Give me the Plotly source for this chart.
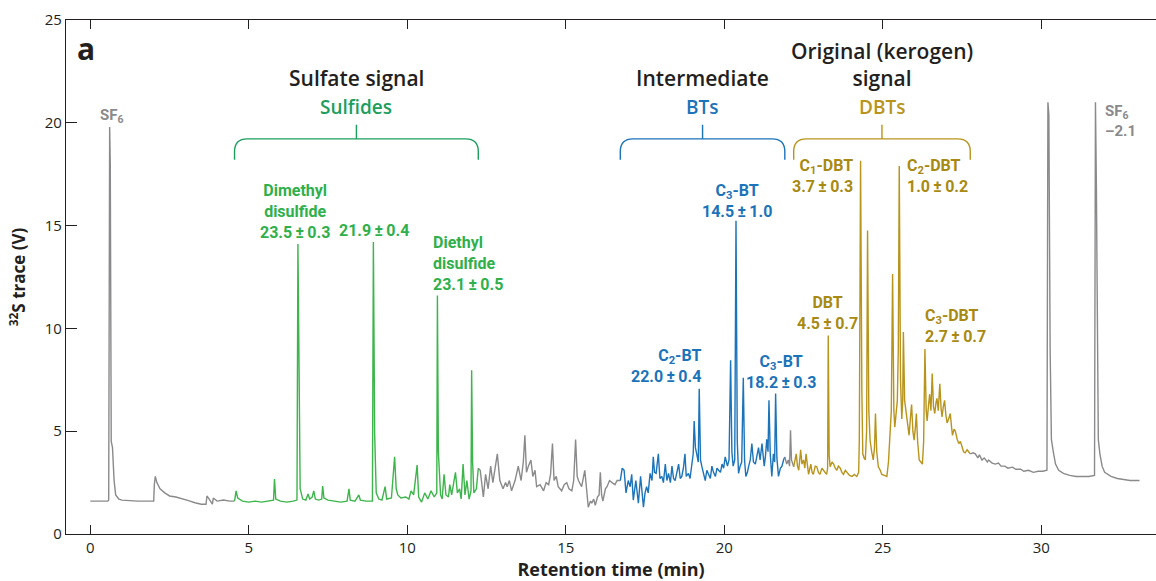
import plotly.graph_objects as go

# ---------------- data (retention time in min, 32S trace in V) ----------------
gray1_t = [0.0, 0.55, 0.58, 0.61, 0.63, 0.66, 0.70, 0.75, 0.80, 0.90, 1.0, 1.5, 2.0, 2.02, 2.05, 2.1, 2.2,
           2.35, 2.5, 2.7, 2.9, 3.1, 3.3, 3.5, 3.65, 3.68, 3.75, 3.85, 3.88, 4.0, 4.2, 4.4, 4.55]
gray1_v = [1.6, 1.6, 1.65, 19.8, 18.0, 4.5, 4.2, 2.6, 1.9, 1.7, 1.65, 1.6, 1.6, 2.4, 2.8, 2.5, 2.2,
           2.0, 1.85, 1.8, 1.72, 1.62, 1.52, 1.45, 1.45, 1.85, 1.7, 1.45, 1.75, 1.6, 1.65, 1.6, 1.6]

green_t = [4.55, 4.6, 4.65, 4.8, 5.0, 5.2, 5.4, 5.6, 5.78, 5.81, 5.85, 6.0, 6.2, 6.4, 6.52, 6.55, 6.58,
           6.62, 6.7, 6.8, 6.87, 6.92, 7.0, 7.05, 7.1, 7.2, 7.3, 7.33, 7.37, 7.5, 7.7, 7.9, 8.1, 8.16,
           8.2, 8.35, 8.47, 8.52, 8.7, 8.9, 8.93, 8.97, 9.02, 9.1, 9.2, 9.3, 9.35, 9.5, 9.6, 9.65, 9.7,
           9.8, 9.95, 10.05, 10.12, 10.2, 10.31, 10.36, 10.45, 10.55, 10.65, 10.75, 10.85, 10.93,
           10.95, 10.98, 11.05, 11.1, 11.16, 11.22, 11.3, 11.34, 11.4, 11.45, 11.52, 11.58, 11.65,
           11.7, 11.76, 11.82, 11.88, 11.95, 12.01, 12.03, 12.06, 12.1, 12.18, 12.24]
green_v = [1.6, 2.1, 1.75, 1.6, 1.55, 1.6, 1.55, 1.6, 1.65, 2.67, 1.7, 1.6, 1.55, 1.6, 1.65, 14.1, 7.6,
           2.2, 1.7, 1.65, 1.95, 1.7, 1.8, 2.1, 1.7, 1.65, 1.7, 2.33, 1.75, 1.65, 1.6, 1.55, 1.6, 2.2,
           1.65, 1.6, 1.9, 1.65, 1.6, 1.6, 14.2, 4.9, 2.0, 1.7, 1.65, 2.3, 1.7, 1.75, 3.75, 2.2, 1.9,
           1.75, 1.8, 1.7, 2.1, 1.9, 3.35, 1.8, 1.55, 2.0, 1.7, 2.1, 1.8, 2.0,
           11.6, 4.0, 1.9, 1.7, 2.9, 1.9, 1.8, 2.4, 1.9, 2.4, 3.0, 2.0, 2.2,
           1.7, 3.4, 1.9, 2.6, 1.7, 2.1, 7.96, 3.5, 2.0, 2.2, 3.2]

gray2_t = [12.24, 12.3, 12.4, 12.47, 12.55, 12.63, 12.7, 12.78, 12.84, 12.92, 13.02, 13.1, 13.15, 13.22,
           13.29, 13.4, 13.5, 13.59, 13.66, 13.71, 13.76, 13.82, 13.9, 13.96, 14.03, 14.08, 14.19, 14.3,
           14.38, 14.46, 14.52, 14.58, 14.63, 14.7, 14.76, 14.87, 14.95, 15.03, 15.1, 15.19, 15.25,
           15.31, 15.36, 15.4, 15.5, 15.6, 15.66, 15.71, 15.78, 15.82, 15.88, 15.93, 16.0, 16.05,
           16.09, 16.13, 16.17, 16.25, 16.3, 16.38, 16.46, 16.55, 16.62, 16.72]
gray2_v = [3.2, 3.1, 1.8, 2.9, 2.2, 3.3, 2.5, 3.4, 3.9, 2.6, 2.2, 2.5, 2.3, 2.6,
           2.1, 2.6, 3.3, 2.6, 3.5, 4.8, 3.0, 3.3, 3.6, 2.8, 3.1, 2.3, 2.4, 2.1,
           2.5, 2.4, 2.9, 4.4, 2.6, 2.8, 2.3, 2.1, 2.4, 2.5, 2.2, 2.1, 2.6,
           4.6, 2.8, 2.6, 2.3, 3.1, 2.2, 1.3, 1.6, 1.5, 1.7, 1.4, 1.8, 1.9,
           3.0, 1.9, 1.6, 2.2, 2.3, 2.6, 2.5, 2.4, 2.6, 2.6]

blue_t = [16.72, 16.78, 16.84, 16.9, 16.97, 17.03, 17.08, 17.13, 17.21, 17.29, 17.36, 17.45, 17.5, 17.55,
          17.6, 17.66, 17.72, 17.76, 17.8, 17.85, 17.92, 17.97, 18.03, 18.08, 18.14, 18.19, 18.24, 18.3,
          18.35, 18.4, 18.45, 18.51, 18.56, 18.61, 18.66, 18.71, 18.76, 18.8, 18.87, 18.92, 18.98, 19.02,
          19.05, 19.09, 19.13, 19.18, 19.21, 19.25, 19.29, 19.35, 19.4, 19.45, 19.5, 19.56, 19.61, 19.66,
          19.72, 19.77, 19.82, 19.88, 19.93, 19.98, 20.03, 20.07, 20.1, 20.15, 20.2, 20.24, 20.28, 20.33,
          20.37, 20.41, 20.45, 20.5, 20.55, 20.6, 20.64, 20.68, 20.73, 20.77, 20.82, 20.87, 20.92, 20.98,
          21.03, 21.08, 21.13, 21.19, 21.26, 21.3, 21.34, 21.38, 21.41, 21.45, 21.5, 21.55, 21.59, 21.62,
          21.66, 21.71, 21.77, 21.82, 21.87, 21.91]
blue_v = [2.6, 3.2, 3.1, 2.0, 2.6, 2.3, 2.9, 1.65, 2.6, 1.5, 2.8, 1.3, 2.0, 2.3,
          2.0, 2.95, 2.6, 3.75, 3.0, 2.95, 3.9, 2.7, 2.8, 2.5, 3.4, 2.6, 2.95, 2.5,
          3.3, 2.7, 2.6, 3.0, 3.4, 2.7, 2.8, 3.2, 3.9, 2.8, 2.95, 2.7, 3.4, 3.9,
          5.5, 4.2, 3.9, 3.5, 7.07, 3.6, 3.3, 2.9, 2.6, 3.1, 2.95, 2.7, 3.3, 3.0,
          2.8, 3.2, 3.1, 3.0, 3.4, 3.2, 3.75, 3.5, 3.3, 3.6, 8.45, 4.0, 3.3, 3.6,
          15.24, 4.5, 2.95, 3.3, 3.5, 7.6, 3.6, 2.8, 3.0, 3.3, 3.6, 4.4, 3.5, 3.4,
          3.8, 4.2, 3.6, 4.4, 3.3, 3.8, 4.6, 4.0, 6.5, 3.9, 2.8, 3.9, 3.5, 6.83,
          3.7, 2.8, 3.2, 3.3, 3.6, 3.75]

gray3_t = [21.91, 21.97, 22.02, 22.06, 22.09, 22.12, 22.19]
gray3_v = [3.75, 3.4, 3.6, 3.3, 5.05, 3.6, 3.27]

gold_t = [22.19, 22.23, 22.27, 22.31, 22.35, 22.41, 22.45, 22.5, 22.54, 22.58, 22.62, 22.66, 22.73, 22.77,
          22.81, 22.87, 22.92, 22.97, 23.02, 23.08, 23.13, 23.18, 23.23, 23.26, 23.28, 23.31, 23.34, 23.4,
          23.45, 23.5, 23.55, 23.6, 23.66, 23.71, 23.76, 23.82, 23.87, 23.95, 24.03, 24.1, 24.18, 24.24,
          24.26, 24.3, 24.34, 24.37, 24.41, 24.45, 24.49, 24.52, 24.56, 24.6, 24.65, 24.7, 24.74, 24.77,
          24.81, 24.86, 24.92, 24.97, 25.05, 25.13, 25.18, 25.23, 25.27, 25.31, 25.35, 25.38, 25.42, 25.46,
          25.49, 25.52, 25.56, 25.6, 25.63, 25.65, 25.69, 25.74, 25.79, 25.83, 25.87, 25.91, 25.95, 25.99,
          26.03, 26.06, 26.1, 26.15, 26.2, 26.25, 26.29, 26.33, 26.37, 26.4, 26.44, 26.48, 26.52, 26.56,
          26.6, 26.64, 26.68, 26.71, 26.75, 26.8, 26.84, 26.87, 26.91, 26.95, 26.99, 27.03, 27.08, 27.13,
          27.17, 27.2, 27.25, 27.29, 27.35, 27.4, 27.45, 27.5, 27.55, 27.6, 27.66, 27.71, 27.76]
gold_v = [3.27, 3.6, 3.9, 3.3, 3.1, 4.1, 3.4, 3.6, 3.2, 3.9, 3.4, 2.9, 3.4, 3.0,
          2.9, 3.3, 3.27, 3.0, 2.9, 3.2, 3.1, 3.0, 2.9, 3.2, 9.66, 3.8, 3.27, 3.5,
          3.4, 3.2, 3.1, 3.3, 3.2, 3.0, 2.9, 3.1, 3.0, 2.85, 2.8, 2.9, 2.8, 3.0,
          4.56, 18.15, 7.0, 3.9, 3.7, 3.6, 5.0, 14.76, 6.0, 4.56, 4.0, 3.6, 4.2, 5.86,
          4.0, 3.27, 3.1, 2.9, 2.85, 2.8, 3.5, 4.8, 6.0, 12.65, 6.0, 5.2, 5.8, 6.5,
          9.0, 17.9, 7.5, 5.6, 6.5, 9.82, 6.5, 5.86, 5.2, 4.8, 5.6, 6.3, 5.0, 4.56,
          5.2, 5.86, 4.5, 3.6, 3.5, 3.4, 4.5, 9.0, 6.0, 5.5, 6.2, 6.8, 6.0, 7.8,
          6.2, 5.86, 6.4, 6.6, 6.0, 7.3, 6.1, 5.7, 6.2, 6.5, 5.8, 5.4, 5.6, 5.86,
          5.2, 4.8, 5.1, 5.0, 4.6, 4.4, 4.5, 4.2, 4.0, 3.95, 4.1, 4.0, 3.9]

gray4_t = [27.76, 27.85, 27.92, 28.0, 28.05, 28.13, 28.2, 28.3, 28.34, 28.45, 28.55, 28.65, 28.73, 28.85,
           28.95, 29.09, 29.2, 29.35, 29.45, 29.6, 29.75, 29.9, 30.05, 30.18, 30.21, 30.24, 30.28, 30.32,
           30.38, 30.45, 30.55, 30.7, 30.9, 31.1, 31.3, 31.5, 31.68, 31.71, 31.74, 31.77, 31.8, 31.85,
           31.92, 32.0, 32.2, 32.4, 32.6, 32.8, 33.0, 33.1]
gray4_v = [3.9, 3.95, 3.9, 3.7, 3.85, 3.6, 3.7, 3.5, 3.6, 3.45, 3.4, 3.45, 3.3, 3.3,
           3.2, 3.25, 3.15, 3.15, 3.05, 3.1, 3.0, 3.05, 3.05, 3.1, 21.0, 20.4, 9.0, 4.6,
           4.0, 3.4, 3.1, 2.95, 2.85, 2.8, 2.8, 2.8, 2.85, 21.0, 16.8, 8.0, 4.6, 3.9,
           3.3, 3.0, 2.8, 2.7, 2.65, 2.6, 2.6, 2.6]

x_ticks = [0, 5, 10, 15, 20, 25, 30]
y_ticks = [0, 5, 10, 15, 20, 25]

# ---------------- styles ----------------
GRAY = "#8a8a8c"
GREEN = "#3cb54a"
GREEN_LBL = "#2fb04a"
GREEN_DK = "#1b9e5e"
BLUE = "#1b73ba"
GOLD = "#b8941c"
GOLD_LBL = "#a88a12"
INK = "#231f20"
LBL_FONT = "Roboto, Liberation Sans, sans-serif"
HEAD_FONT = "Open Sans, Noto Sans, sans-serif"

fig = go.Figure()
for t, v, c in [(gray1_t, gray1_v, GRAY), (green_t, green_v, GREEN), (gray2_t, gray2_v, GRAY),
                (blue_t, blue_v, BLUE), (gray3_t, gray3_v, GRAY), (gold_t, gold_v, GOLD),
                (gray4_t, gray4_v, GRAY)]:
    fig.add_trace(go.Scatter(x=t, y=v, mode="lines", line=dict(color=c, width=1.4),
                             showlegend=False, hoverinfo="skip"))


def bracket(x0, x1, color):
    ytop, ybot, ytick, rx, ry = 19.22, 18.2, 19.9, 0.4, 0.62
    xc = (x0 + x1) / 2
    path = (f"M {x0},{ybot} L {x0},{ytop - ry} Q {x0},{ytop} {x0 + rx},{ytop} "
            f"L {x1 - rx},{ytop} Q {x1},{ytop} {x1},{ytop - ry} L {x1},{ybot} "
            f"M {xc},{ytop} L {xc},{ytick}")
    fig.add_shape(type="path", path=path, xref="x", yref="y",
                  line=dict(color=color, width=1.4), fillcolor="rgba(0,0,0,0)")
    return xc


xc_s = bracket(green_t[0], green_t[-1], GREEN_DK)
xc_b = bracket(blue_t[0], blue_t[-1], BLUE)
xc_d = bracket(gold_t[0], gold_t[-1], GOLD)


def note(x, y, text, color, size=16, xanchor="center", align="center", family=LBL_FONT, weight="bold"):
    fig.add_annotation(x=x, y=y, xref="x", yref="y", text=text, showarrow=False,
                       xanchor=xanchor, yanchor="middle", align=align,
                       font=dict(family=family, size=size, color=color, weight=weight))


# group headings
note(xc_s, 22.18, "Sulfate signal", INK, 21, family=HEAD_FONT, weight=600)
note(xc_s, 20.78, "Sulfides", GREEN_DK, 19, family=HEAD_FONT, weight=600)
note(xc_b, 22.18, "Intermediate", INK, 21, family=HEAD_FONT, weight=600)
note(xc_b, 20.78, "BTs", BLUE, 19, family=HEAD_FONT, weight=600)
note(xc_d, 22.85, "Original (kerogen)<br>signal", INK, 21, family=HEAD_FONT, weight=600)
note(xc_d, 20.78, "DBTs", GOLD, 19, family=HEAD_FONT, weight=600)

pm = "\u2009\u00b1\u2009"
# peak labels
note(6.45, 15.68, f"Dimethyl<br>disulfide<br>23.5{pm}0.3", GREEN_LBL)
note(8.95, 14.76, f"21.9{pm}0.4", GREEN_LBL)
note(10.74, 13.16, f"Diethyl<br>disulfide<br>23.1{pm}0.5", GREEN_LBL, xanchor="left", align="left")
note(20.4, 16.2, f"C<sub>3</sub>-BT<br>14.5{pm}1.0", BLUE)
note(19.33, 8.16, f"C<sub>2</sub>-BT<br>22.0{pm}0.4", BLUE, xanchor="right", align="right")
note(21.79, 7.9, f"C<sub>3</sub>-BT<br>18.2{pm}0.3", BLUE)
note(24.12, 17.4, f"C<sub>1</sub>-DBT<br>3.7{pm}0.3", GOLD_LBL, xanchor="right", align="right")
note(25.7, 17.4, f"C<sub>2</sub>-DBT<br>1.0{pm}0.2", GOLD_LBL, xanchor="left", align="left")
note(23.27, 10.73, f"DBT<br>4.5{pm}0.7", GOLD_LBL)
note(26.27, 10.1, f"C<sub>3</sub>-DBT<br>2.7{pm}0.7", GOLD_LBL, xanchor="left", align="left")
note(0.69, 20.35, "SF<sub>6</sub>", GRAY, 15)
note(31.95, 20.1, "SF<sub>6</sub><br>\u20132.1", GRAY, 15, xanchor="left", align="left")

fig.add_annotation(x=0.008, y=0.945, xref="paper", yref="paper", text="a", showarrow=False,
                   xanchor="left", yanchor="middle",
                   font=dict(family=HEAD_FONT, size=30, color=INK, weight="bold"))

axis_common = dict(showline=True, linecolor=INK, linewidth=1.3, ticks="inside", tickcolor=INK,
                   tickwidth=1.3, showgrid=False, zeroline=False,
                   tickfont=dict(family=HEAD_FONT, size=15, color=INK))

fig.update_layout(
    width=1156, height=581,
    margin=dict(l=66, r=0, t=20, b=47),
    paper_bgcolor="white", plot_bgcolor="white",
    xaxis=dict(range=[-0.767, 33.62], tickvals=x_ticks, ticklen=9, mirror="ticks",
               title=dict(text="Retention time (min)", standoff=4,
                          font=dict(family=HEAD_FONT, size=18, color=INK, weight="bold")),
               **axis_common),
    yaxis=dict(range=[0, 25], tickvals=y_ticks, ticklen=11,
               title=dict(text="<sup>32</sup>S trace (V)", standoff=14,
                          font=dict(family=HEAD_FONT, size=17, color=INK, weight="bold")),
               **axis_common),
)

fig.write_html("out.html")
